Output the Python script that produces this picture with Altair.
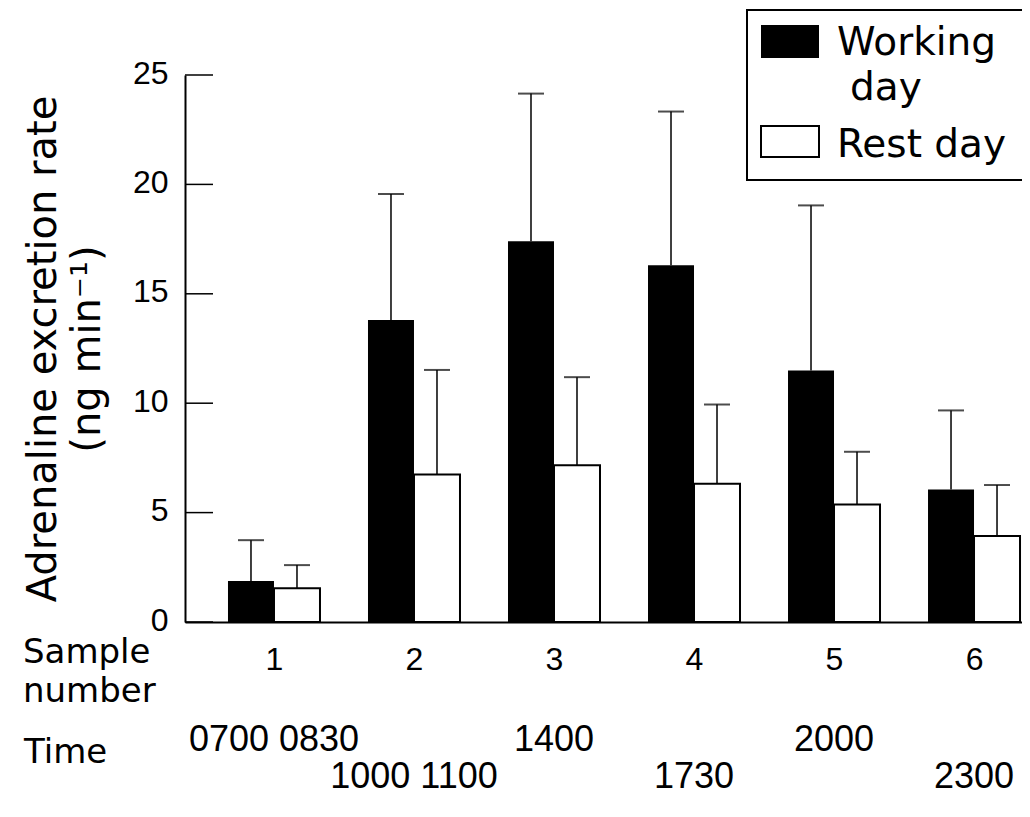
import altair as alt
import pandas as pd

# ---- data ----
samples = [1, 2, 3, 4, 5, 6]
working_mean = [1.87, 13.8, 17.4, 16.3, 11.5, 6.06]
working_sd = [1.87, 5.76, 6.75, 7.03, 7.54, 3.61]
rest_mean = [1.54, 6.74, 7.16, 6.32, 5.37, 3.93]
rest_sd = [1.06, 4.78, 4.03, 3.62, 2.41, 2.33]
time_labels = ["0700 0830", "1000 1100", "1400", "1730", "2000", "2300"]
y_ticks = [0, 5, 10, 15, 20, 25]
series_names = ["Working", "day", "Rest day"]
y_title = ["Adrenaline excretion rate", "(ng min\u207b\u00b9)"]
row_title = ["Sample\nnumber"]
time_title = ["Time"]

TXT = "DejaVu Sans"
NUM = "Liberation Sans"

df_w = pd.DataFrame({"sample": samples, "mean": working_mean, "sd": working_sd})
df_r = pd.DataFrame({"sample": samples, "mean": rest_mean, "sd": rest_sd})
df_w["upper"] = df_w["mean"] + df_w["sd"]
df_r["upper"] = df_r["mean"] + df_r["sd"]
df_time = pd.DataFrame({"sample": samples, "label": time_labels})
df_time["row"] = [(s - 1) % 2 for s in samples]

xscale = alt.Scale(domain=[0.40014, 6.307], nice=False, zero=False)
yscale = alt.Scale(domain=[0, 25], nice=False)

x_axis = alt.Axis(values=samples, ticks=False, grid=False, labelPadding=47,
                  labelBaseline="alphabetic", labelFont=NUM, labelFontSize=32,
                  labelColor="black", domainColor="black", domainWidth=2,
                  format="d", title=None)
y_axis = alt.Axis(values=y_ticks, ticks=False, grid=False, labelPadding=17,
                  labelOffset=-2,
                  labelFont=NUM, labelFontSize=32, labelColor="black",
                  domainColor="black", domainWidth=2,
                  title=y_title, titleFont=TXT, titleFontSize=40,
                  titleFontWeight="normal", titleColor="black",
                  titleAngle=270, titleX=-130, titleY=273.5,
                  titleAlign="center", titleBaseline="alphabetic",
                  titleLineHeight=44)

X = alt.X("sample:Q", scale=xscale, axis=x_axis)
Y = alt.Y("mean:Q", scale=yscale, axis=y_axis)

bars_w = alt.Chart(df_w).mark_bar(color="black", width=46, xOffset=-23).encode(x=X, y=Y)
bars_r = alt.Chart(df_r).mark_bar(fill="white", stroke="black", strokeWidth=2,
                                  width=46, xOffset=23).encode(x=X, y=Y)

def errs(df, off):
    rule = alt.Chart(df).mark_rule(color="black", strokeWidth=1.5, xOffset=off).encode(
        x=X, y=Y, y2="upper:Q")
    cap = alt.Chart(df).mark_tick(color="black", orient="horizontal", size=26,
                                  thickness=2, xOffset=off).encode(
        x=X, y=alt.Y("upper:Q", scale=yscale, axis=y_axis))
    return rule + cap

err_w = errs(df_w, -23)
err_r = errs(df_r, 23)

tick_df = pd.DataFrame({"v": y_ticks})
inner_ticks = alt.Chart(tick_df).mark_rule(color="black", strokeWidth=1.5).encode(
    y=alt.Y("v:Q", scale=yscale, axis=y_axis), x=alt.value(0), x2=alt.value(28))

sample_txt = alt.Chart(pd.DataFrame({"t": row_title})).mark_text(
    font=TXT, fontSize=34, align="left", baseline="alphabetic", lineBreak="\n",
    lineHeight=39, color="black").encode(text="t:N", x=alt.value(-162), y=alt.value(588))
time_txt = alt.Chart(pd.DataFrame({"t": time_title})).mark_text(
    font=TXT, fontSize=34, align="left", baseline="alphabetic", color="black").encode(
    text="t:N", x=alt.value(-161), y=alt.value(688))

time_row1 = alt.Chart(df_time).transform_filter("datum.row == 0").mark_text(
    font=NUM, fontSize=36, align="center", baseline="alphabetic", color="black").encode(
    x=X, text="label:N", y=alt.value(676))
time_row2 = alt.Chart(df_time).transform_filter("datum.row == 1").mark_text(
    font=NUM, fontSize=36, align="center", baseline="alphabetic", color="black").encode(
    x=X, text="label:N", y=alt.value(713))

# ---- legend ----
one = pd.DataFrame({"k": [0]})
leg_box = alt.Chart(one).mark_rect(fill="white", stroke="black", strokeWidth=2).encode(
    x=alt.value(562), x2=alt.value(860), y=alt.value(-65), y2=alt.value(105))
sw1 = alt.Chart(one).mark_rect(fill="black").encode(
    x=alt.value(576), x2=alt.value(634), y=alt.value(-50), y2=alt.value(-17))
sw2 = alt.Chart(one).mark_rect(fill="white", stroke="black", strokeWidth=2).encode(
    x=alt.value(576), x2=alt.value(634), y=alt.value(51), y2=alt.value(82))

def leg_text(label, x, y):
    return alt.Chart(pd.DataFrame({"t": [label]})).mark_text(
        font=TXT, fontSize=39, align="left", baseline="alphabetic", color="black").encode(
        text="t:N", x=alt.value(x), y=alt.value(y))

lt1 = leg_text(series_names[0], 652, -20)
lt2 = leg_text(series_names[1], 665, 25)
lt3 = leg_text(series_names[2], 652, 82)

chart = alt.layer(
    bars_w, bars_r, err_w, err_r, inner_ticks,
    sample_txt, time_txt, time_row1, time_row2,
    leg_box, sw1, sw2, lt1, lt2, lt3,
).properties(
    width=837, height=547,
    autosize=alt.AutoSizeParams(type="none"),
    padding={"left": 177, "top": 67, "right": 0, "bottom": 180},
    background="white",
).configure_view(strokeWidth=0)

chart.save("out.html", embed_options={"renderer": "svg", "actions": False})
